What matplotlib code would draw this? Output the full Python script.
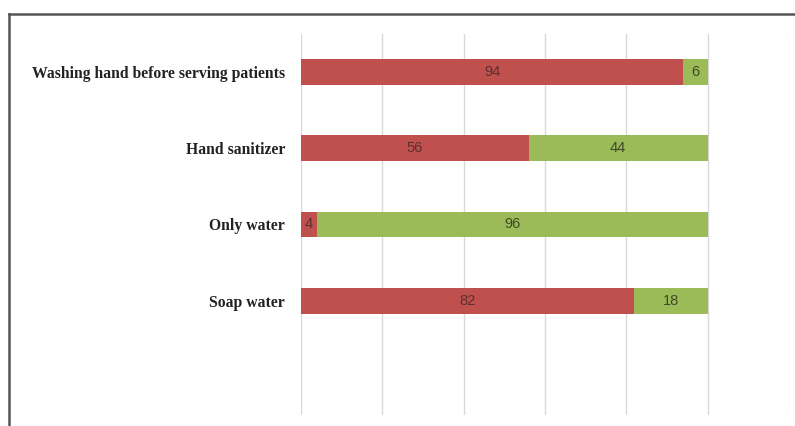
import matplotlib
matplotlib.use("Agg")
import matplotlib.pyplot as plt
from matplotlib.lines import Line2D

categories = ["Washing hand before serving patients", "Hand sanitizer", "Only water", "Soap water"]
red_vals = [94, 56, 4, 82]
green_vals = [6, 44, 96, 18]

RED = "#C0504D"
GREEN = "#9BBB59"

fig = plt.figure(figsize=(7.95, 4.26), dpi=100)
W, H = 795, 426
ax = fig.add_axes([301 / W, 1 - 415 / H, (789 - 301) / W, (415 - 34) / H])

ypos = list(range(len(categories)))
h = 0.34
ax.barh(ypos, red_vals, height=h, color=RED, zorder=3)
ax.barh(ypos, green_vals, left=red_vals, height=h, color=GREEN, zorder=3)

for y, r, g in zip(ypos, red_vals, green_vals):
    ax.text(r / 2, y, str(r), ha="center", va="center", fontsize=10.5,
            color="#5a3030", family="Liberation Sans", zorder=4)
    ax.text(r + g / 2, y, str(g), ha="center", va="center", fontsize=10.5,
            color="#3f4a25", family="Liberation Sans", zorder=4)

ax.set_xlim(0, 120)
ax.set_ylim(4.5, -0.5)
ax.set_xticks(range(0, 121, 20))
ax.xaxis.grid(True, color="#D9D9D9", linewidth=1, zorder=0)
ax.tick_params(axis="x", length=0, labelbottom=False)
ax.tick_params(axis="y", length=0, pad=11.5)
ax.set_yticks(ypos)
ax.set_yticklabels(categories, family="Liberation Serif", fontweight="bold",
                   fontsize=11.3, color="#222222")
for s in ax.spines.values():
    s.set_visible(False)

# outer frame (top and left edges)
fig.add_artist(Line2D([9 / W, 1.0], [1 - 14 / H, 1 - 14 / H], transform=fig.transFigure,
                      color="#555555", linewidth=1.8))
fig.add_artist(Line2D([9 / W, 9 / W], [0, 1 - 14 / H], transform=fig.transFigure,
                      color="#555555", linewidth=1.8))

fig.savefig("out.png", dpi=100)
